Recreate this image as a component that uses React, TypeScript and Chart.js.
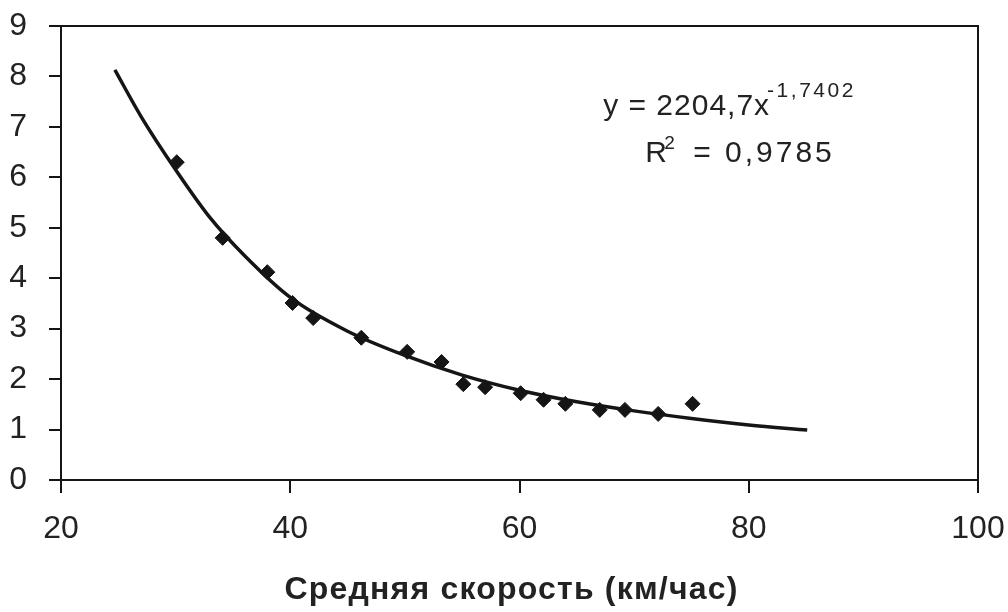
import React, { useEffect, useRef } from "react";
import { Chart, registerables } from "chart.js";

Chart.register(...registerables);

// Observed points (average speed km/h -> value)
const speedKmh = [30.1, 34.1, 38.0, 40.2, 42.0, 46.2, 50.2, 53.2, 55.1, 57.0, 60.1, 62.1, 64.0, 67.0, 69.2, 72.1, 75.1];
const observed = [6.3, 4.8, 4.12, 3.51, 3.21, 2.82, 2.54, 2.34, 1.9, 1.84, 1.72, 1.59, 1.51, 1.39, 1.39, 1.31, 1.51];

// Power trend line
const trendX = [24.7, 27, 30, 33, 36, 40, 45, 50, 55, 60, 65, 70, 75, 80, 85.1];
const trendY = [8.13, 7.2, 6.15, 5.2, 4.45, 3.62, 2.95, 2.47, 2.08, 1.78, 1.55, 1.37, 1.22, 1.09, 0.99];

const xTicks = [20, 40, 60, 80, 100];
const yTicks = [0, 1, 2, 3, 4, 5, 6, 7, 8, 9];

const xAxisTitle = "Средняя скорость (км/час)";
const eqMain = "y = 2204,7x";
const eqExp = "-1,7402";
const r2Main = "R";
const r2Sup = "2";
const r2Value = "= 0,9785";

const INK = "#151515";
const TEXT = "#222222";
const TICK_FONT = "'Liberation Sans', Arial, sans-serif";
const TEXT_FONT = "'Liberation Sans', Arial, sans-serif";

const framePlugin = {
  id: "frameAndEquation",
  afterDraw(chart: any) {
    const { ctx, chartArea, scales } = chart;
    ctx.save();
    ctx.strokeStyle = INK;
    ctx.lineWidth = 2;
    ctx.beginPath();
    ctx.moveTo(chartArea.left, chartArea.top);
    ctx.lineTo(chartArea.right, chartArea.top);
    ctx.lineTo(chartArea.right, chartArea.bottom);
    ctx.stroke();

    // equation label anchored in data space
    const ax = scales.x.getPixelForValue(67.3);
    const ay = scales.y.getPixelForValue(7.24);
    ctx.fillStyle = TEXT;
    ctx.textBaseline = "alphabetic";
    ctx.textAlign = "left";
    ctx.font = `30px ${TEXT_FONT}`;
    (ctx as any).letterSpacing = "1px";
    ctx.fillText(eqMain, ax, ay);
    const w = ctx.measureText(eqMain).width;
    ctx.font = `21px ${TEXT_FONT}`;
    (ctx as any).letterSpacing = "2.5px";
    ctx.fillText(eqExp, ax + w - 3, ay - 18);

    const rx = ax + 42;
    const ry = ay + 47;
    ctx.font = `30px ${TEXT_FONT}`;
    (ctx as any).letterSpacing = "0px";
    ctx.fillText(r2Main, rx, ry);
    ctx.font = `19px ${TEXT_FONT}`;
    ctx.fillText(r2Sup, rx + 19, ry - 13);
    ctx.font = `30px ${TEXT_FONT}`;
    (ctx as any).letterSpacing = "3px";
    ctx.fillText(r2Value, rx + 48, ry);

    // axis title
    const cx = (chartArea.left + chartArea.right) / 2 - 8;
    ctx.font = `bold 32px ${TEXT_FONT}`;
    (ctx as any).letterSpacing = "1.2px";
    ctx.textAlign = "center";
    ctx.fillText(xAxisTitle, cx, 599);
    ctx.restore();
  },
};

export default function App() {
  const ref = useRef<HTMLCanvasElement | null>(null);

  useEffect(() => {
    if (!ref.current) return;
    const chart = new Chart(ref.current, {
      type: "scatter",
      data: {
        datasets: [
          {
            label: "trend",
            data: trendX.map((x, i) => ({ x, y: trendY[i] })),
            showLine: true,
            borderColor: INK,
            borderWidth: 3.5,
            pointRadius: 0,
            cubicInterpolationMode: "monotone",
            fill: false,
          } as any,
          {
            label: "observed",
            data: speedKmh.map((x, i) => ({ x, y: observed[i] })),
            showLine: false,
            pointStyle: "rectRot",
            pointRadius: 7.5,
            backgroundColor: INK,
            borderColor: INK,
            borderWidth: 1,
          },
        ],
      },
      options: {
        responsive: false,
        animation: false,
        events: [],
        layout: { padding: { top: 26, right: 30, left: 0, bottom: 0 } },
        plugins: { legend: { display: false }, tooltip: { enabled: false } },
        scales: {
          x: {
            type: "linear",
            min: 20,
            max: 100,
            afterBuildTicks: (s: any) => {
              s.ticks = xTicks.map((v) => ({ value: v }));
            },
            afterFit: (s: any) => {
              s.height = 132;
              s.paddingLeft = 0;
              s.paddingRight = 0;
            },
            border: { color: INK, width: 2 },
            grid: { drawOnChartArea: false, tickLength: 13, color: INK, lineWidth: 2 },
            ticks: {
              color: TEXT,
              font: { family: TICK_FONT, size: 32 },
              padding: 17,
              maxRotation: 0,
              autoSkip: false,
            },
          },
          y: {
            type: "linear",
            min: 0,
            max: 9,
            afterBuildTicks: (s: any) => {
              s.ticks = yTicks.map((v) => ({ value: v }));
            },
            afterFit: (s: any) => {
              s.width = 61;
              s.paddingTop = 0;
              s.paddingBottom = 0;
            },
            border: { color: INK, width: 2 },
            grid: { drawOnChartArea: false, tickLength: 12, color: INK, lineWidth: 2 },
            ticks: {
              color: TEXT,
              font: { family: TICK_FONT, size: 32 },
              padding: 22,
              autoSkip: false,
            },
          },
        },
      },
      plugins: [framePlugin],
    });
    return () => chart.destroy();
  }, []);

  return (
    <div style={{ position: "absolute", left: 0, top: 0, width: 1008, height: 612, background: "#fff" }}>
      <canvas ref={ref} width={1008} height={612} style={{ display: "block" }} />
    </div>
  );
}
